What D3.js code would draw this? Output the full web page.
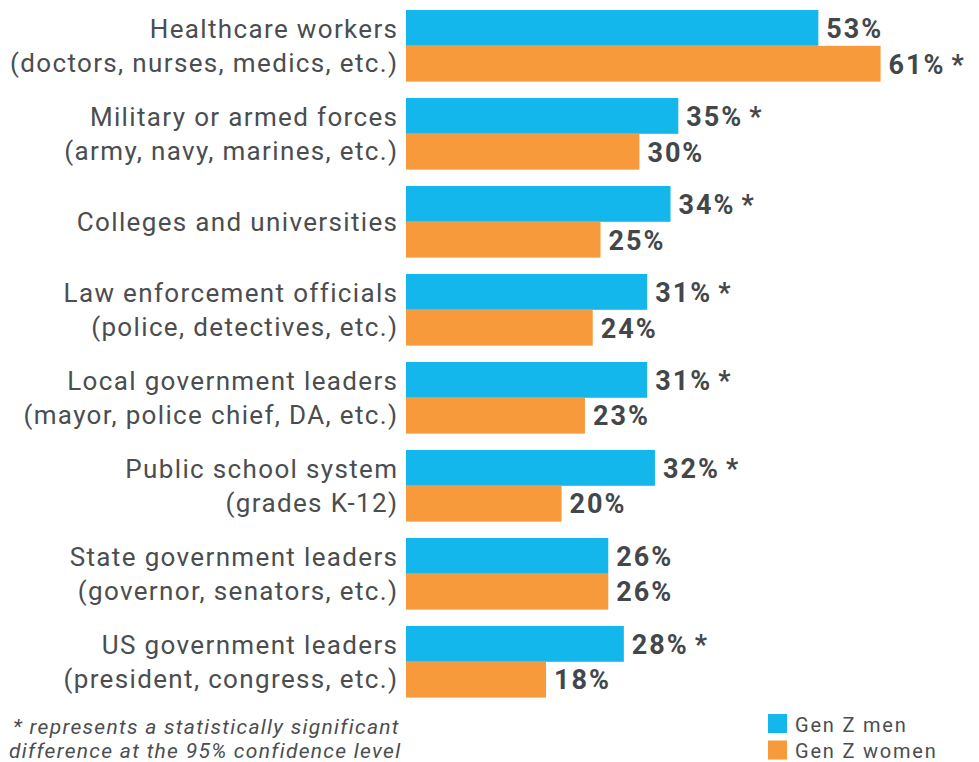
<!DOCTYPE html>
<html>
<head>
<meta charset="utf-8">
<script src="https://cdn.jsdelivr.net/npm/d3@7"></script>
<style>
  html, body { margin: 0; padding: 0; background: #ffffff; }
  svg { display: block; font-family: Roboto, "Noto Sans", sans-serif; }
</style>
</head>
<body>
<svg id="chart" width="979" height="762"></svg>
<script>
// Trust in institutions, Gen Z men vs. Gen Z women (percent)
const categories = [
  ["Healthcare workers", "(doctors, nurses, medics, etc.)"],
  ["Military or armed forces", "(army, navy, marines, etc.)"],
  ["Colleges and universities"],
  ["Law enforcement officials", "(police, detectives, etc.)"],
  ["Local government leaders", "(mayor, police chief, DA, etc.)"],
  ["Public school system", "(grades K-12)"],
  ["State government leaders", "(governor, senators, etc.)"],
  ["US government leaders", "(president, congress, etc.)"]
];
const seriesNames = ["Gen Z men", "Gen Z women"];
const menValues   = [53, 35, 34, 31, 31, 32, 26, 28];
const womenValues = [61, 30, 25, 24, 23, 20, 26, 18];
// statistically significant difference marker: which series carries the "*"
const menSignificant   = [false, true, true, true, true, true, false, true];
const womenSignificant = [true, false, false, false, false, false, false, false];
const footnoteLines = [
  "* represents a statistically significant",
  "difference at the 95% confidence level"
];

const colors = { "Gen Z men": "#13b7ec", "Gen Z women": "#f69a3b" };
const labelColor = "#4b4d4f";
const valueColor = "#44474a";

const svg = d3.select("#chart");

const rows = categories.map((lines, i) => ({
  key: lines.join(" "),
  lines,
  bars: [
    { series: seriesNames[0], value: menValues[i], sig: menSignificant[i] },
    { series: seriesNames[1], value: womenValues[i], sig: womenSignificant[i] }
  ]
}));

const x0 = 406;
const x = d3.scaleLinear().domain([0, 100]).range([x0, x0 + 778]);

const y = d3.scaleBand()
  .domain(rows.map(d => d.key))
  .range([10, 697.6])
  .paddingInner(0.186)
  .paddingOuter(0);

const ySub = d3.scaleBand()
  .domain(seriesNames)
  .range([0, y.bandwidth()])
  .padding(0);

const groups = svg.selectAll("g.row")
  .data(rows)
  .join("g")
  .attr("class", "row")
  .attr("transform", d => `translate(0,${y(d.key)})`);

// category labels, right-aligned against the bars
groups.each(function(d) {
  const g = d3.select(this);
  const c = y.bandwidth() / 2;
  const offsets = d.lines.length === 1 ? [9.5] : [-7.5, 26];
  g.selectAll("text.cat")
    .data(d.lines)
    .join("text")
    .attr("class", "cat")
    .attr("x", x0 - 7.6)
    .attr("y", (t, i) => c + offsets[i])
    .attr("text-anchor", "end")
    .attr("font-size", 26)
    .attr("letter-spacing", 1.35)
    .attr("fill", labelColor)
    .text(t => t);
});

// bars
groups.selectAll("rect")
  .data(d => d.bars)
  .join("rect")
  .attr("x", x(0))
  .attr("y", b => ySub(b.series))
  .attr("width", b => x(b.value) - x(0))
  .attr("height", ySub.bandwidth())
  .attr("fill", b => colors[b.series]);

// value labels with significance marker
const vl = groups.selectAll("text.val")
  .data(d => d.bars)
  .join("text")
  .attr("class", "val")
  .attr("x", b => x(b.value) + 8)
  .attr("y", b => ySub(b.series) + ySub.bandwidth() / 2 + 9.8)
  .attr("font-size", 27)
  .attr("font-weight", 700)
  .attr("letter-spacing", 2)
  .attr("fill", valueColor);
vl.append("tspan").text(b => b.value + "%");
vl.filter(b => b.sig).append("tspan")
  .attr("dx", 6)
  .text("*");

// footnote
svg.append("g")
  .selectAll("text")
  .data(footnoteLines)
  .join("text")
  .attr("x", (t, i) => i === 0 ? 13 : 9)
  .attr("y", (t, i) => 734 + i * 24)
  .attr("font-size", 21)
  .attr("font-style", "italic")
  .attr("letter-spacing", 1.3)
  .attr("fill", labelColor)
  .text(t => t);

// legend
const legend = svg.append("g")
  .selectAll("g")
  .data(seriesNames)
  .join("g")
  .attr("transform", (s, i) => `translate(768,${714 + i * 26.5})`);
legend.append("rect")
  .attr("width", 19)
  .attr("height", 19)
  .attr("fill", s => colors[s]);
legend.append("text")
  .attr("x", 27)
  .attr("y", 17.5)
  .attr("font-size", 20)
  .attr("letter-spacing", 1.8)
  .attr("fill", labelColor)
  .text(s => s);
</script>
</body>
</html>
